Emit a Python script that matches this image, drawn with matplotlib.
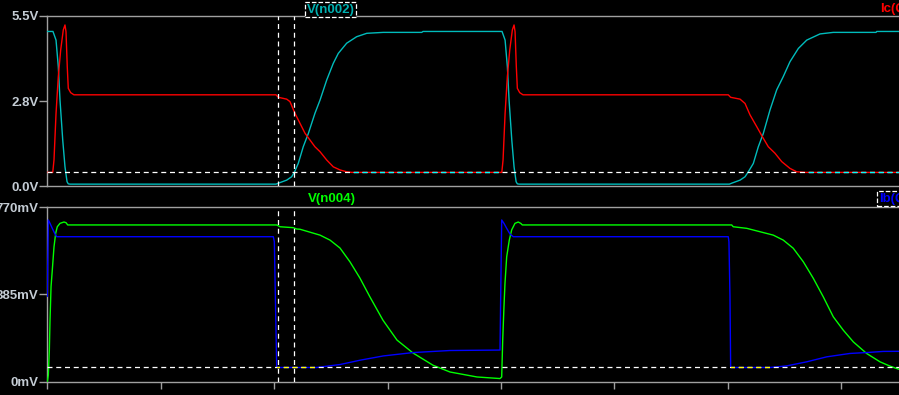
import matplotlib
matplotlib.use("Agg")
import matplotlib.pyplot as plt
from matplotlib.patches import Rectangle

# time axis (cut off at the bottom in the screenshot, units unknown)
x_ticks = [0, 1, 2, 3, 4, 5, 6, 7]
x_tick_labels = ["0", "1", "2", "3", "4", "5", "6", "7"]

# top pane: V(n002) and Ic(Q1), both in the pane's volt scale
top_ticks = [0.0, 2.75, 5.5]
top_tick_labels = ["0.0V", "2.8V", "5.5V"]

t_n002 = [0.0, 0.050, 0.077, 0.097, 0.112, 0.136, 0.156, 0.174, 0.185, 0.20,
          2.017, 2.037, 2.111, 2.155, 2.178, 2.213, 2.257, 2.302, 2.360, 2.405,
          2.464, 2.522, 2.566, 2.640, 2.728, 2.817, 2.963, 3.302, 3.313,
          4.010, 4.037, 4.057, 4.072, 4.096, 4.116, 4.134, 4.145, 4.16,
          6.015, 6.035, 6.109, 6.153, 6.182, 6.226, 6.270, 6.314, 6.373, 6.432,
          6.490, 6.549, 6.623, 6.697, 6.814, 6.931, 7.308, 7.314, 7.7]
v_n002 = [5.0, 5.0, 4.72, 3.86, 2.78, 1.49, 0.62, 0.14, 0.07, 0.06,
          0.06, 0.09, 0.19, 0.30, 0.44, 0.73, 1.27, 1.70, 2.35, 2.78,
          3.43, 3.97, 4.29, 4.62, 4.83, 4.94, 4.97, 4.97, 5.0,
          5.0, 4.72, 3.86, 2.78, 1.49, 0.62, 0.14, 0.07, 0.06,
          0.06, 0.09, 0.19, 0.30, 0.46, 0.73, 1.27, 1.70, 2.46, 3.11,
          3.54, 4.02, 4.45, 4.72, 4.92, 4.97, 4.97, 5.0, 5.0]

t_ic = [0.0, 0.048, 0.059, 0.077, 0.097, 0.118, 0.141, 0.156, 0.165, 0.176,
        0.185, 0.206, 0.235, 2.017, 2.037, 2.111, 2.140, 2.184, 2.228, 2.272,
        2.316, 2.360, 2.405, 2.464, 2.522, 2.581, 2.640, 2.684,
        4.008, 4.019, 4.037, 4.057, 4.078, 4.101, 4.116, 4.125, 4.136, 4.145,
        4.166, 4.195, 6.005, 6.026, 6.109, 6.153, 6.197, 6.256, 6.305, 6.358,
        6.417, 6.476, 6.549, 6.608, 6.682, 7.7]
v_ic = [0.44, 0.44, 0.84, 2.35, 3.54, 4.40, 5.05, 5.21, 4.99, 3.86,
        3.16, 3.02, 2.95, 2.95, 2.87, 2.81, 2.73, 2.35, 2.03, 1.71,
        1.49, 1.27, 1.11, 0.84, 0.62, 0.52, 0.46, 0.44,
        0.44, 0.84, 2.35, 3.54, 4.40, 5.05, 5.21, 4.99, 3.86, 3.16,
        3.02, 2.95, 2.95, 2.87, 2.81, 2.67, 2.30, 1.92, 1.60, 1.27,
        1.06, 0.79, 0.57, 0.46, 0.44, 0.44]

# bottom pane: V(n004) and Ib(Q1), in mV
bot_ticks = [0, 385, 770]
bot_tick_labels = ["0mV", "385mV", "770mV"]

t_n004 = [0.0, 0.009, 0.018, 0.024, 0.033, 0.044, 0.059, 0.074, 0.088, 0.112,
          0.147, 0.165, 0.180, 2.023, 2.052, 2.169, 2.199, 2.228, 2.405, 2.493,
          2.581, 2.669, 2.757, 2.845, 2.960, 3.084, 3.225, 3.401, 3.551, 3.789,
          3.992, 4.007, 4.016, 4.027, 4.036, 4.051, 4.074, 4.095, 4.124, 4.153,
          4.175, 4.189, 6.035, 6.049, 6.168, 6.285, 6.402, 6.490, 6.578, 6.667,
          6.755, 6.843, 6.931, 7.019, 7.108, 7.225, 7.343, 7.431, 7.51, 7.7]
v_n004 = [0, 28, 138, 271, 419, 492, 595, 655, 684, 699,
          705, 702, 692, 692, 684, 680, 674, 673, 647, 625,
          590, 529, 457, 374, 271, 183, 126, 72, 42, 20,
          13, 20, 183, 330, 434, 551, 625, 670, 699, 705,
          699, 692, 692, 684, 677, 662, 647, 625, 589, 529,
          456, 374, 286, 227, 175, 124, 87, 68, 54, 40]

t_ib = [0.0, 0.009, 0.024, 0.044, 0.068, 0.083, 1.993, 2.002, 2.011, 2.023,
        2.376, 2.581, 2.757, 2.963, 3.228, 3.551, 3.992, 4.007, 4.027, 4.051,
        4.080, 4.109, 6.005, 6.011, 6.020, 6.026, 6.373, 6.520, 6.697, 6.873,
        7.078, 7.225, 7.372, 7.7]
v_ib = [377, 714, 699, 677, 652, 640, 640, 618, 377, 62,
        62, 75, 94, 113, 128, 137, 139, 714, 699, 677,
        652, 640, 640, 618, 377, 62, 62, 69, 87, 109,
        124, 128, 133, 134]

# cursors
cursor_t = [2.037, 2.178]
cursor_top = 0.44
cursor_bot = 62
top_xor_spans = [(2.684, 4.008), (6.682, 7.7)]
bot_xor_spans = [(2.023, 2.376), (6.026, 6.373)]

W, H = 899, 395
BG = "black"
FRAME = "#a0a0a0"
TXT = "#c4ccd4"
FONT = "Liberation Sans"

fig = plt.figure(figsize=(W / 100, H / 100), dpi=100, facecolor=BG)

x0 = 47.3
px_per_unit = 113.4
xmax = 7.7
ax_w = xmax * px_per_unit / W


def make_axes(top_px, bot_px):
    ax = fig.add_axes([x0 / W, 1 - bot_px / H, ax_w, (bot_px - top_px) / H])
    ax.set_facecolor(BG)
    ax.set_xlim(0, xmax)
    for side in ["top", "bottom", "left"]:
        ax.spines[side].set_color(FRAME)
        ax.spines[side].set_linewidth(1.0)
    ax.spines["right"].set_visible(False)
    ax.tick_params(axis="y", direction="out", length=5.8, width=1.0,
                   color=FRAME, pad=0.5, labelcolor=TXT)
    for lab in ax.get_yticklabels():
        lab.set_fontfamily(FONT)
    return ax


def dashed_cursor_h(ax, y, spans, xor_color):
    ls = (0, (4, 3))
    ax.axhline(y, color="white", lw=0.9, ls=ls, zorder=5)
    for a, b in spans:
        ln = ax.axhline(y, color=xor_color, lw=0.9, ls=ls, zorder=6)
        ln.set_clip_path(Rectangle((a, -1e4), b - a, 2e4, transform=ax.transData))


# ---- top pane
ax1 = make_axes(16, 186)
ax1.set_ylim(0, 5.5)
ax1.set_yticks(top_ticks)
ax1.set_yticklabels(top_tick_labels, fontsize=9.5, fontweight="bold", family=FONT)
ax1.set_xticks([])
ax1.plot(t_n002, v_n002, color="#00bcbc", lw=1.0, zorder=3)
ax1.plot(t_ic, v_ic, color="#ff0000", lw=1.0, zorder=4)
dashed_cursor_h(ax1, cursor_top, top_xor_spans, "#00ffff")
for tc in cursor_t:
    ax1.axvline(tc, color="white", lw=0.9, ls=(0, (4, 3)), zorder=5)

# ---- bottom pane
ax2 = make_axes(207.3, 381.5)
ax2.set_ylim(0, 770)
ax2.set_yticks(bot_ticks)
ax2.set_yticklabels(bot_tick_labels, fontsize=9.5, fontweight="bold", family=FONT)
ax2.set_xticks(x_ticks)
ax2.set_xticklabels(x_tick_labels, fontsize=9.5, fontweight="bold", family=FONT)
ax2.tick_params(axis="x", direction="out", length=5.0, width=1.0,
                color=FRAME, pad=6, labelcolor=TXT)
ax2.plot(t_n004, v_n004, color="#00ff00", lw=1.0, zorder=3)
ax2.plot(t_ib, v_ib, color="#0000ff", lw=1.0, zorder=4)
dashed_cursor_h(ax2, cursor_bot, bot_xor_spans, "#ffff00")
for tc in cursor_t:
    ax2.axvline(tc, color="white", lw=0.9, ls=(0, (4, 3)), zorder=5)

# ---- trace labels
box = dict(boxstyle="square,pad=0.12", fc=BG, ec="white", ls="--", lw=0.9)
fig.text(306.5 / W, 1 - 12.7 / H, "V(n002)", color="#00b0b0", fontsize=9.5,
         fontweight="bold", family=FONT, va="baseline", bbox=box)
fig.text(880 / W, 1 - 12.3 / H, "Ic(Q1)", color="#ff0000", fontsize=9.5,
         fontweight="bold", family=FONT, va="baseline")
fig.text(308 / W, 1 - 202.5 / H, "V(n004)", color="#00ff00", fontsize=9.5,
         fontweight="bold", family=FONT, va="baseline")
fig.text(879 / W, 1 - 201.7 / H, "Ib(Q1)", color="#0000ff", fontsize=9.5,
         fontweight="bold", family=FONT, va="baseline", bbox=box)

fig.savefig("out.png", dpi=100, facecolor=BG)
